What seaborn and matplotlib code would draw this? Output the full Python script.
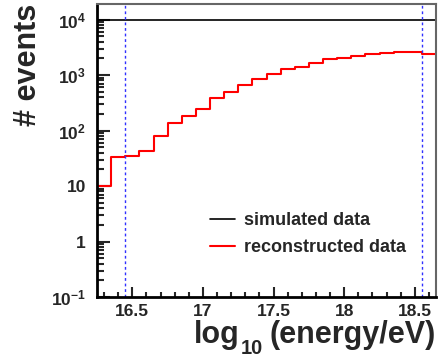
import numpy as np
import pandas as pd
import matplotlib
matplotlib.use("Agg")
import matplotlib.pyplot as plt
import seaborn as sns
from matplotlib.lines import Line2D

# ---- data ----
bin_left_edges = [16.25, 16.35, 16.45, 16.55, 16.65, 16.75, 16.85, 16.95, 17.05, 17.15,
                  17.25, 17.35, 17.45, 17.55, 17.65, 17.75, 17.85, 17.95, 18.05, 18.15,
                  18.25, 18.35, 18.45, 18.55]
bin_width = 0.1
simulated = [10000] * 24
reconstructed = [10, 33, 35, 43, 80, 136, 186, 246, 386, 503,
                 661, 847, 1042, 1265, 1409, 1620, 1930, 2018, 2193, 2350,
                 2482, 2588, 2620, 2350]
cut_lines = [16.45, 18.55]
x_ticks = [16.5, 17.0, 17.5, 18.0, 18.5]
x_tick_labels = ["16.5", "17", "17.5", "18", "18.5"]
y_ticks = [0.1, 1, 10, 100, 1000, 10000]
y_tick_labels = [r"$\mathbf{10^{-1}}$", "1", "10", r"$\mathbf{10^{2}}$",
                 r"$\mathbf{10^{3}}$", r"$\mathbf{10^{4}}$"]
legend_labels = ["simulated data", "reconstructed data"]
xlabel_parts = ["log", "10", "(energy/eV)"]
ylabel_text = "# events"

# ---- style ----
sns.set_style("ticks")
plt.rcParams["font.family"] = ["Liberation Sans", "DejaVu Sans"]
plt.rcParams["font.weight"] = "bold"
plt.rcParams["mathtext.fontset"] = "custom"
plt.rcParams["mathtext.rm"] = "Liberation Sans:bold"
plt.rcParams["mathtext.bf"] = "Liberation Sans:bold"
plt.rcParams["mathtext.it"] = "Liberation Sans:bold"

fig = plt.figure(figsize=(4.38, 3.63), dpi=100)
ax = fig.add_axes([97 / 438, 1 - 297 / 363, 339 / 438, 293 / 363])

edges_ext = bin_left_edges + [bin_left_edges[-1] + bin_width]
df_sim = pd.DataFrame({"x": edges_ext, "y": simulated + [simulated[-1]]})
df_rec = pd.DataFrame({"x": edges_ext, "y": reconstructed + [reconstructed[-1]]})

sns.lineplot(data=df_sim, x="x", y="y", ax=ax, color="black", lw=1.2,
             drawstyle="steps-post", estimator=None, sort=False)
sns.lineplot(data=df_rec, x="x", y="y", ax=ax, color="#ff0000", lw=1.5,
             drawstyle="steps-post", estimator=None, sort=False)

for xc in cut_lines:
    ax.axvline(xc, color="#3030ff", lw=1.0, ls=(0, (2, 2)))

ax.set_yscale("log")
ax.set_xlim(16.25, 18.65)
ax.set_ylim(0.1, 10 ** 4.28)

ax.set_xticks(x_ticks)
ax.set_xticklabels(x_tick_labels)
ax.set_xticks(np.arange(16.3, 18.65, 0.1), minor=True)
ax.set_yticks(y_ticks)
ax.set_yticklabels(y_tick_labels)

ax.tick_params(axis="both", which="both", direction="in", labelsize=12.5, width=1.5)
ax.tick_params(axis="x", which="major", length=7, pad=5)
ax.tick_params(axis="x", which="minor", length=3.5)
ax.tick_params(axis="y", which="major", length=9, pad=8)
ax.tick_params(axis="y", which="minor", length=5)
for lab in ax.get_xticklabels() + ax.get_yticklabels():
    lab.set_fontweight("bold")

for s in ["left", "bottom"]:
    ax.spines[s].set_linewidth(2)
    ax.spines[s].set_color("black")
for s in ["top", "right"]:
    ax.spines[s].set_linewidth(1.5)
    ax.spines[s].set_color("#666666")

# x label: "log" + lowered subscript "10" + "(energy/eV)"
xl = ax.set_xlabel(xlabel_parts[2], fontsize=22, fontweight="bold",
                   loc="right", labelpad=1)
sub = ax.annotate(xlabel_parts[1], xy=(0, 0), xycoords=xl, xytext=(-5, -5.5),
                  textcoords="offset points", ha="right", va="bottom",
                  fontsize=14.5, fontweight="bold", annotation_clip=False)
ax.annotate(xlabel_parts[0], xy=(0, 0), xycoords=(sub, xl), xytext=(-1, 0),
            textcoords="offset points", ha="right", va="bottom",
            fontsize=22, fontweight="bold", annotation_clip=False)

ax.set_ylabel(ylabel_text, fontsize=22, fontweight="bold", loc="top")
ax.yaxis.set_label_coords(-0.205, 1.0)
ax.yaxis.label.set_va("center")

handles = [Line2D([], [], color="black", lw=1.2), Line2D([], [], color="#ff0000", lw=1.5)]
ax.legend(handles, legend_labels, frameon=False, loc="upper left",
          bbox_to_anchor=(0.285, 0.345), prop={"weight": "bold", "size": 13},
          handlelength=1.4, handletextpad=0.5, labelspacing=0.57)

fig.savefig("out.png", dpi=100)
